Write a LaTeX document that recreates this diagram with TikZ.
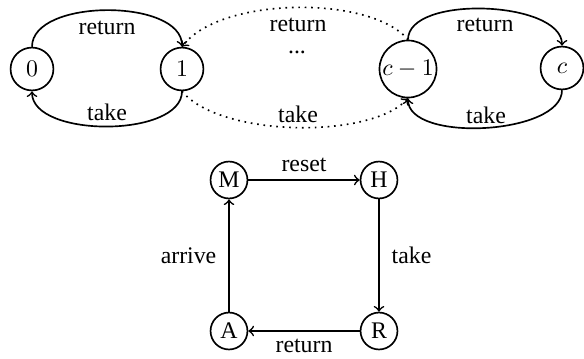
\documentclass[tikz,border=0pt]{standalone}
\usepackage{fontspec}
\setmainfont{Liberation Serif}
\begin{document}
\begin{tikzpicture}[x=0.42pt,y=-0.42pt,
  st/.style={draw,circle,line width=0.7pt,minimum size=18pt,inner sep=0.5pt},
  sq/.style={draw,circle,line width=0.7pt,minimum size=15.5pt,inner sep=0.5pt},
  ar/.style={->,line width=0.7pt},
  lb/.style={inner sep=1pt}]
\useasboundingbox (0,0) rectangle (584,358);
% top row
\node[st] (n0) at (32,69) {$0$};
\node[st] (n1) at (182,69) {$1$};
\node[st] (nc1) at (408,69) {$c-1$};
\node[st] (nc) at (562,68) {$c$};
\draw[ar] (n0.north) to[out=90,in=90,looseness=0.83] (n1.north);
\draw[ar] (n1.south) to[out=-90,in=-90,looseness=0.8] (n0.south);
\draw[ar] (nc1.north) to[out=90,in=90,looseness=0.75] (nc.north);
\draw[ar] (nc.south) to[out=-90,in=-90,looseness=0.74] (nc1.south);
\draw[ar,dotted] (nc1.north) .. controls +(-38,-45) and +(38,-50) .. (n1.north);
\draw[ar,dotted] (n1.south) .. controls +(38,46) and +(-38,41) .. (nc1.south);
\node[lb] (l1) at (107,28) {return};
\node[lb] (l2) at (107,112) {take};
\node[lb] (l3) at (298,25) {return};
\node[lb] (l4) at (297,52) {...};
\node[lb] (l5) at (298,114) {take};
\node[lb] (l6) at (485,25) {return};
\node[lb] (l7) at (486,115) {take};
% bottom square
\node[sq] (M) at (229,180) {M};
\node[sq] (H) at (379,180) {H};
\node[sq] (A) at (229,331) {A};
\node[sq] (R) at (379,331) {R};
\draw[ar] (M) -- node[lb,above=2pt] {reset} (H);
\draw[ar] (H) -- node[lb,right=4pt] {take} (R);
\draw[ar] (R) -- node[lb,below=2pt] {return} (A);
\draw[ar] (A) -- node[lb,left=4pt] {arrive} (M);
\end{tikzpicture}
\end{document}
